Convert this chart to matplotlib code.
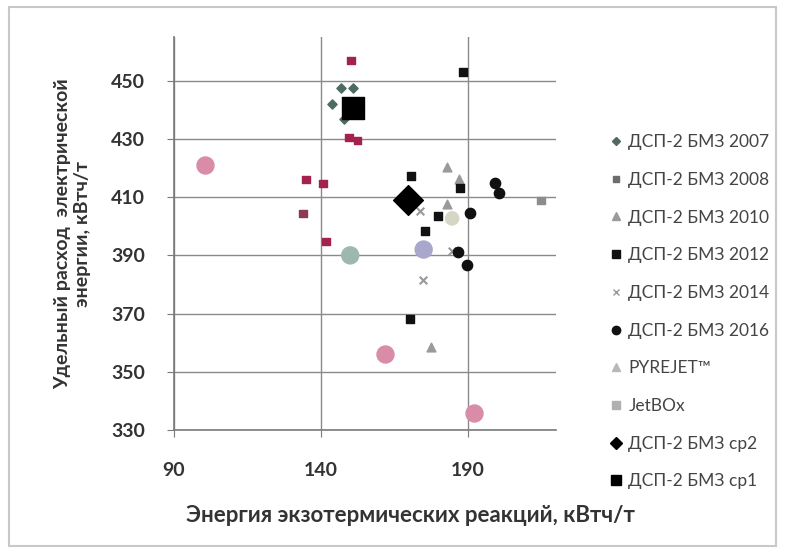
import matplotlib.pyplot as plt
from matplotlib.lines import Line2D
from matplotlib.patches import Rectangle

plt.rcParams['font.family'] = ['Lato', 'DejaVu Sans']

# ДСП-2 БМЗ 2007
x2007 = [146.8, 150.8, 143.7, 147.8]
y2007 = [447.6, 447.6, 442.1, 437.0]
# ДСП-2 БМЗ 2008
x2008 = [150.2, 149.5, 152.5, 134.9, 140.7, 133.9, 141.7, 214.9]
y2008 = [456.9, 430.5, 429.5, 416.1, 414.7, 404.4, 394.8, 408.9]
c2008 = ['#a3234e', '#a3234e', '#a3234e', '#a3234e', '#a3234e', '#8a3a55', '#a3234e', '#8c8c8c']
# ДСП-2 БМЗ 2010
x2010 = [183.0, 187.1, 183.0, 177.5]
y2010 = [420.2, 416.4, 407.8, 358.5]
# ДСП-2 БМЗ 2012
x2012 = [170.8, 187.5, 179.9, 175.4, 170.5, 188.5]
y2012 = [417.1, 413.0, 403.4, 398.2, 368.1, 453.1]
# ДСП-2 БМЗ 2014
x2014 = [173.6, 174.9, 184.5]
y2014 = [405.4, 381.4, 391.5]
# ДСП-2 БМЗ 2016
x2016 = [199.3, 200.7, 190.8, 186.8, 189.8]
y2016 = [414.7, 411.3, 404.7, 391.3, 386.6]
# PYREJET
xpyr = [150.0, 175.0, 184.7]
ypyr = [390.0, 392.0, 402.7]
cpyr = ['#9cb8b0', '#a9a8cc', '#d6d6c4']
spyr = [150, 150, 90]
# JetBOx
xjet = [100.5, 162.0, 192.0]
yjet = [420.9, 356.0, 336.0]
# averages
xcp2 = [169.8]
ycp2 = [408.9]
xcp1 = [150.8]
ycp1 = [440.7]

labels = ['ДСП-2 БМЗ 2007', 'ДСП-2 БМЗ 2008', 'ДСП-2 БМЗ 2010', 'ДСП-2 БМЗ 2012',
          'ДСП-2 БМЗ 2014', 'ДСП-2 БМЗ 2016', 'PYREJET™', 'JetBOx',
          'ДСП-2 БМЗ ср2', 'ДСП-2 БМЗ ср1']

fig = plt.figure(figsize=(7.85, 5.53), dpi=100)
ax = fig.add_axes([0.2217, 0.2224, 0.708 - 0.2217, 0.933 - 0.2224])

ax.scatter(xjet, yjet, s=150, marker='o', color='#d98ca8', zorder=3)
ax.scatter(xpyr, ypyr, s=spyr, marker='o', color=cpyr, zorder=3)
ax.scatter(x2007, y2007, s=22, marker='D', color='#4f6b60', zorder=4)
ax.scatter(x2008, y2008, s=30, marker='s', color=c2008, zorder=4)
ax.scatter(x2010, y2010, s=40, marker='^', color='#9a9a9a', zorder=4)
ax.scatter(x2012, y2012, s=40, marker='s', color='#111111', zorder=4)
ax.scatter(x2014, y2014, s=30, marker='x', color='#999999', zorder=4)
ax.scatter(x2016, y2016, s=55, marker='o', color='#111111', zorder=4)
ax.scatter(xcp2, ycp2, s=230, marker='D', color='black', zorder=5)
ax.scatter(xcp1, ycp1, s=230, marker='s', color='black', zorder=5)

ax.set_xlim(90, 220)
ax.set_ylim(330, 465)
ax.set_xticks([90, 140, 190])
ax.set_yticks(range(330, 451, 20))
ax.grid(True, color='#8a8a8a', linewidth=1)
ax.set_axisbelow(True)
for s in ['top', 'right']:
    ax.spines[s].set_visible(False)
for s in ['left', 'bottom']:
    ax.spines[s].set_color('#7a7a7a')
    ax.spines[s].set_linewidth(1.2)
ax.tick_params(length=5, color='#7a7a7a', labelsize=14, labelcolor='#333333')
ax.tick_params(axis='y', pad=16)
ax.tick_params(axis='x', pad=18)
for t in ax.get_xticklabels() + ax.get_yticklabels():
    t.set_fontweight('bold')

ax.set_xlabel('Энергия экзотермических реакций, кВтч/т', fontsize=16,
              fontweight='bold', color='#333333')
ax.xaxis.set_label_coords(0.62, -0.19)
ax.set_ylabel('Удельный расход  электрической\nэнергии, кВтч/т', fontsize=14,
              fontweight='bold', color='#333333', labelpad=14, linespacing=1.25)

handles = [
    Line2D([], [], ls='', marker='D', ms=4, color='#4f6b60'),
    Line2D([], [], ls='', marker='s', ms=5, color='#6d6d6d'),
    Line2D([], [], ls='', marker='^', ms=6, color='#9a9a9a'),
    Line2D([], [], ls='', marker='s', ms=6, color='#111111'),
    Line2D([], [], ls='', marker='x', ms=5, color='#999999'),
    Line2D([], [], ls='', marker='o', ms=6, color='#111111'),
    Line2D([], [], ls='', marker='^', ms=6, color='#b8b8b8'),
    Line2D([], [], ls='', marker='s', ms=6, color='#b0b0b0'),
    Line2D([], [], ls='', marker='D', ms=6, color='black'),
    Line2D([], [], ls='', marker='s', ms=7, color='black'),
]
fig.legend(handles, labels, loc='upper left', bbox_to_anchor=(0.765, 0.77),
           frameon=False, fontsize=12.5, labelcolor='#444444', handletextpad=0.2,
           handlelength=1.0, labelspacing=1.25, borderaxespad=0)

fig.patches.append(Rectangle((0.012, 0.012), 0.976, 0.976, transform=fig.transFigure,
                             fill=False, edgecolor='#c8c8c8', linewidth=1.5))

fig.savefig('out.png', dpi=100)
